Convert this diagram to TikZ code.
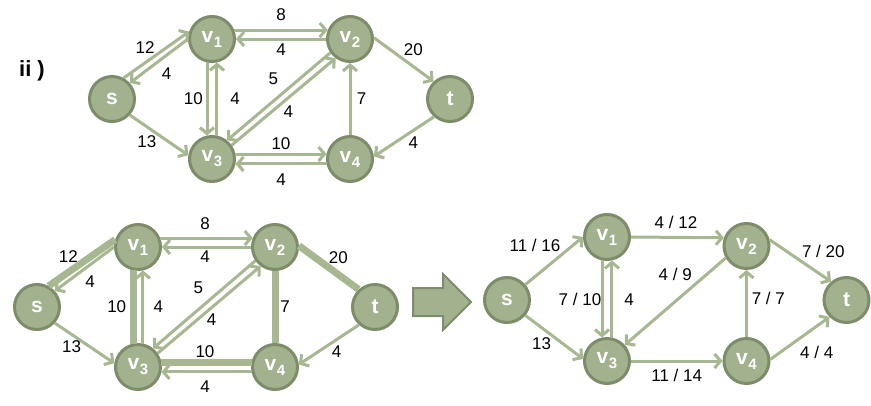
\documentclass[tikz,border=0pt]{standalone}
\usepackage{fontspec}
\setmainfont{Liberation Sans}
\usetikzlibrary{arrows.meta}
\usetikzlibrary{positioning}

\definecolor{nodefill}{RGB}{162,177,142}
\definecolor{nodeline}{RGB}{125,140,105}
\definecolor{arccol}{RGB}{166,183,145}

\newcommand{\vsub}[1]{v\kern0.5pt\raisebox{-5pt}{\fontsize{15}{15}\selectfont #1}}

\begin{document}
\begin{tikzpicture}[x=1pt, y=-1pt, on grid,
  vertex/.style={circle, draw=nodeline, fill=nodefill, line width=3pt, minimum size=45pt, inner sep=0pt, text=white, font=\fontsize{21}{21}\selectfont\bfseries},
  resid/.style={draw=arccol, line width=3pt, -{Straight Barb[length=6pt, width=14pt]}},
  augpath/.style={draw=arccol, line width=7pt},
  lbl/.style={font=\fontsize{17}{17}\selectfont, text=black, inner sep=0pt}]
  \useasboundingbox (0,0) rectangle (871,405);

  % residual network
  \node[font=\fontsize{22}{22}\selectfont\bfseries] (part) at (32,71) {ii )};
  \node[vertex] (s) at (112,99) {s};
  \node[vertex, above right=60pt and 100pt of s] (v1) {\vsub{1}};
  \node[vertex, right=138pt of v1] (v2) {\vsub{2}};
  \node[vertex, below=120pt of v1] (v3) {\vsub{3}};
  \node[vertex, right=138pt of v3] (v4) {\vsub{4}};
  \node[vertex, below right=60pt and 100pt of v2] (t) {t};

  \draw[resid] (s.61) -- node[lbl, xshift=-11.4pt, yshift=7.5pt] {12} (v1.162);
  \draw[resid] (v1.180) -- node[lbl, xshift=7.8pt, yshift=-12.3pt] {4} (s.42);
  \draw[resid] (v1.22) -- node[lbl, yshift=15pt] {8} (v2.158);
  \draw[resid] (v2.180) -- node[lbl, yshift=-10.3pt] {4} (v1.0);
  \draw[resid] (v1.258) -- node[lbl, xshift=-13.7pt] {10} (v3.102);
  \draw[resid] (v3.78) -- node[lbl, xshift=18pt] {4} (v1.282);
  \draw[resid] (v2.215) -- node[lbl, xshift=-5.4pt, yshift=18.2pt] {5} (v3.51);
  \draw[resid] (v3.35) -- node[lbl, xshift=4.7pt, yshift=-10pt] {4} (v2.233);
  \draw[resid] (v3.12) -- node[lbl, yshift=10.7pt] {10} (v4.168);
  \draw[resid] (v4.192) -- node[lbl, yshift=-16pt] {4} (v3.348);
  \draw[resid] (s.-42) -- node[lbl, xshift=-12.3pt, yshift=-6.6pt] {13} (v3.171);
  \draw[resid] (v4) -- node[lbl, xshift=11.7pt] {7} (v2);
  \draw[resid] (v2.3) -- node[lbl, xshift=9.5pt, yshift=10.2pt] {20} (t.133);
  \draw[resid] (t.228) -- node[lbl, xshift=9.4pt, yshift=-6pt] {4} (v4.6);

  % augmenting path
  \node[vertex] (ps) at (37,307) {s};
  \node[vertex, above right=60pt and 101pt of ps] (pv1) {\vsub{1}};
  \node[vertex, right=137pt of pv1] (pv2) {\vsub{2}};
  \node[vertex, below=120pt of pv1] (pv3) {\vsub{3}};
  \node[vertex, right=137pt of pv3] (pv4) {\vsub{4}};
  \node[vertex, below right=60pt and 100pt of pv2] (pt) {t};

  \draw[augpath] (ps.61) -- node[lbl, xshift=-13.6pt, yshift=6.1pt] {12} (pv1.162);
  \draw[resid] (pv1.180) -- node[lbl, xshift=5.6pt, yshift=-12.7pt] {4} (ps.42);
  \draw[resid] (pv1.22) -- node[lbl, xshift=-1.5pt, yshift=14.7pt] {8} (pv2.158);
  \draw[resid] (pv2.180) -- node[lbl, xshift=-1.5pt, yshift=-9.7pt] {4} (pv1.0);
  \draw[augpath] (pv1.258) -- node[lbl, xshift=-16.3pt] {10} (pv3.102);
  \draw[resid] (pv3.78) -- node[lbl, xshift=15.3pt] {4} (pv1.282);
  \draw[resid] (pv2.215) -- node[lbl, xshift=-5.9pt, yshift=17.3pt] {5} (pv3.51);
  \draw[resid] (pv3.35) -- node[lbl, xshift=2.5pt, yshift=-9.6pt] {4} (pv2.233);
  \draw[augpath] (pv3.12) -- node[lbl, xshift=-1.5pt, yshift=10.3pt] {10} (pv4.168);
  \draw[resid] (pv4.192) -- node[lbl, xshift=-1.5pt, yshift=-14.7pt] {4} (pv3.348);
  \draw[resid] (ps.-42) -- node[lbl, xshift=-12.9pt, yshift=-3.7pt] {13} (pv3.171);
  \draw[augpath] (pv4) -- node[lbl, xshift=10pt] {7} (pv2);
  \draw[augpath] (pv2.3) -- node[lbl, xshift=9.5pt, yshift=10.3pt] {20} (pt.133);
  \draw[resid] (pt.228) -- node[lbl, xshift=7.8pt, yshift=-7pt] {4} (pv4.6);

  % step arrow
  \draw[draw=nodeline, fill=nodefill, line width=2pt] (413,288) -- (443,288) -- (443,274) -- (471,302) -- (443,330) -- (443,316) -- (413,316) -- cycle;

  % flow after augmentation
  \node[vertex] (fs) at (507,300) {s};
  \node[vertex, above right=63pt and 100pt of fs] (fv1) {\vsub{1}};
  \node[vertex, below right=9pt and 139.5pt of fv1] (fv2) {\vsub{2}};
  \node[vertex, below=124pt of fv1] (fv3) {\vsub{3}};
  \node[vertex, right=139.5pt of fv3] (fv4) {\vsub{4}};
  \node[vertex, below right=54pt and 100pt of fv2] (ft) {t};

  \draw[resid] (fs.40) -- node[lbl, xshift=-19.2pt, yshift=15.8pt] {11 / 16} (fv1.180);
  \draw[resid] (fs.-40) -- node[lbl, xshift=-12.6pt, yshift=-6.1pt] {13} (fv3.175);
  \draw[resid] (fv1.0) -- node[lbl, xshift=-1.5pt, yshift=14.7pt] {4 / 12} (fv2.160);
  \draw[resid] (fv2.210) -- node[lbl, yshift=27.5pt] {4 / 9} (fv3.42);
  \draw[resid] (fv3) -- node[lbl, yshift=-14pt] {11 / 14} (fv4);
  \draw[resid] (fv4) -- node[lbl, xshift=21.8pt, yshift=5.2pt] {7 / 7} (fv2);
  \draw[resid] (fv2.15) -- node[lbl, xshift=22.9pt, yshift=9pt] {7 / 20} (ft.130);
  \draw[resid] (fv4.4) -- node[lbl, xshift=16.7pt, yshift=-14.5pt] {4 / 4} (ft.225);
  \draw[resid] (fv1.258) -- node[lbl, xshift=-22pt] {7 / 10} (fv3.102);
  \draw[resid] (fv3.78) -- node[lbl, xshift=17pt, yshift=-1pt] {4} (fv1.282);
\end{tikzpicture}
\end{document}
